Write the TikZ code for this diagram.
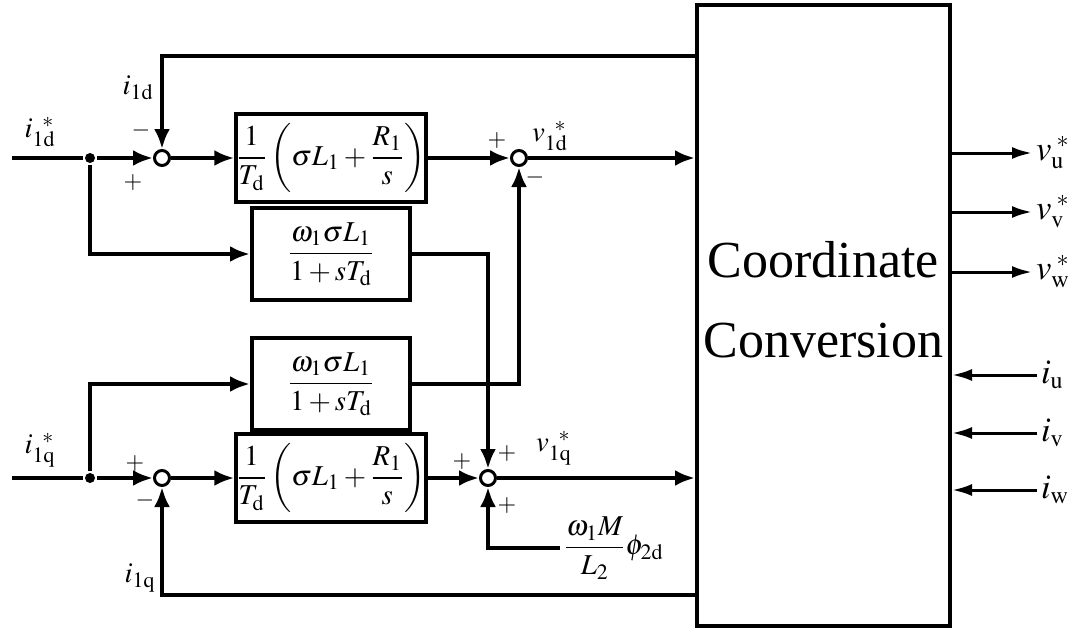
\documentclass[tikz,border=0pt]{standalone}
\usepackage{amsmath}
\usepackage{mathptmx}
\usepackage{fontspec}
\setmainfont{Liberation Serif}
\usepackage{tikz}
\usetikzlibrary{arrows.meta,positioning,calc}

\begin{document}
\begin{tikzpicture}[x=0.5pt, y=-0.5pt, line width=2pt, font=\Large,
  blk/.style={draw, line width=2pt, inner sep=0pt},
  sumpt/.style={draw, circle, line width=1.5pt, minimum size=7.5pt, inner sep=0pt, fill=white},
  dotpt/.style={circle, fill, minimum size=5pt, inner sep=0pt},
  sig/.style={-{Latex[length=10pt,width=8pt]}},
  outsig/.style={line width=1.5pt, -{Latex[length=10pt,width=6pt]}},
  sgn/.style={font=\large\boldmath, inner sep=0pt}]
  \useasboundingbox (0,0) rectangle (1080,631);

  % coordinate conversion
  \node[blk, minimum width=126.5pt, minimum height=310.5pt] (cc) at (823.5,315.5) {};
  \node[align=center, font=\fontsize{26}{40}\selectfont] (cctxt) at (823.5,300) {Coordinate\\Conversion};

  % d axis
  \node[dotpt] (dotd) at (90,158) {};
  \node[sumpt] (s1) at (162,158) {};
  \node[blk, minimum width=93pt, minimum height=44pt] (pid) at (331,158) {$\dfrac{1}{T_{\mathrm{d}}}\left(\sigma L_1+\dfrac{R_1}{s}\right)$};
  \node[sumpt] (s2) at (519,158) {};
  \node[blk, minimum width=79pt, minimum height=46pt] (wd) at (331,254) {$\dfrac{\omega_1\sigma L_1}{1+sT_{\mathrm{d}}}$};

  % q axis
  \node[blk, minimum width=79pt, minimum height=46pt] (wq) at (331,384) {$\dfrac{\omega_1\sigma L_1}{1+sT_{\mathrm{d}}}$};
  \node[dotpt] (dotq) at (90,478) {};
  \node[sumpt] (s3) at (162,478) {};
  \node[blk, minimum width=93pt, minimum height=44pt] (piq) at (331,478) {$\dfrac{1}{T_{\mathrm{d}}}\left(\sigma L_1+\dfrac{R_1}{s}\right)$};
  \node[sumpt] (s4) at (488,478) {};
  \node[anchor=west, inner sep=1pt] (phi) at (560,548) {$\dfrac{\omega_1 M}{L_2}\phi_{2\mathrm{d}}$};

  \coordinate (ind) at (12,158);
  \coordinate (inq) at (12,478);
  \coordinate (fbd) at (cc.west |- 0,56);
  \coordinate (fbq) at (cc.west |- 0,595);

  % signal labels
  \node (lid) at (40,132) {$i_{1\mathrm{d}}^{\;\;*}$};
  \node (lfd) at (138,88) {$i_{1\mathrm{d}}$};
  \node (liq) at (40,450) {$i_{1\mathrm{q}}^{\;\;*}$};
  \node (lfq) at (140,578) {$i_{1\mathrm{q}}$};
  \node (lvd) at (550,136) {$v_{1\mathrm{d}}^{\;\;*}$};
  \node (lvq) at (554,448) {$v_{1\mathrm{q}}^{\;\;*}$};

  % signs
  \node[sgn] at (141,130) {$-$};
  \node[sgn] at (133,183) {$+$};
  \node[sgn] at (497,141) {$+$};
  \node[sgn] at (535,177) {$-$};
  \node[sgn] at (135,463) {$+$};
  \node[sgn] at (145,500) {$-$};
  \node[sgn] at (462,461) {$+$};
  \node[sgn] at (507,453) {$+$};
  \node[sgn] at (507,505) {$+$};

  % d path
  \draw (ind) -- (dotd);
  \draw[sig] (dotd) -- (s1);
  \draw[sig] (s1) -- (pid);
  \draw[sig] (pid) -- (s2);
  \draw[sig] (s2) -- (cc.west |- s2);
  \draw[sig] (fbd) -| (s1);
  \draw[sig] (dotd) |- (wd);
  \draw[sig] (wd) -| (s4);

  % q path
  \draw (inq) -- (dotq);
  \draw[sig] (dotq) -- (s3);
  \draw[sig] (s3) -- (piq);
  \draw[sig] (piq) -- (s4);
  \draw[sig] (s4) -- (cc.west |- s4);
  \draw[sig] (fbq) -| (s3);
  \draw[sig] (dotq) |- (wq);
  \draw[sig] (wq) -| (s2);
  \draw[sig] (phi.west) -| (s4);

  % three phase side
  \node[anchor=west, inner sep=1pt, font=\LARGE] (vu) at (1032,153) {$v_{\mathrm{u}}^{\;*}$};
  \node[anchor=west, inner sep=1pt, font=\LARGE] (vv) at (1032,212) {$v_{\mathrm{v}}^{\;*}$};
  \node[anchor=west, inner sep=1pt, font=\LARGE] (vw) at (1032,272) {$v_{\mathrm{w}}^{\;*}$};
  \node[anchor=west, inner sep=1pt, font=\LARGE] (iu) at (1037,375) {$i_{\mathrm{u}}$};
  \node[anchor=west, inner sep=1pt, font=\LARGE] (iv) at (1037,433) {$i_{\mathrm{v}}$};
  \node[anchor=west, inner sep=1pt, font=\LARGE] (iw) at (1037,490) {$i_{\mathrm{w}}$};
  \draw[outsig] (cc.east |- vu.west) -- (vu.west);
  \draw[outsig] (cc.east |- vv.west) -- (vv.west);
  \draw[outsig] (cc.east |- vw.west) -- (vw.west);
  \draw[outsig] (iu.west) -- (cc.east |- iu.west);
  \draw[outsig] (iv.west) -- (cc.east |- iv.west);
  \draw[outsig] (iw.west) -- (cc.east |- iw.west);
\end{tikzpicture}
\end{document}
